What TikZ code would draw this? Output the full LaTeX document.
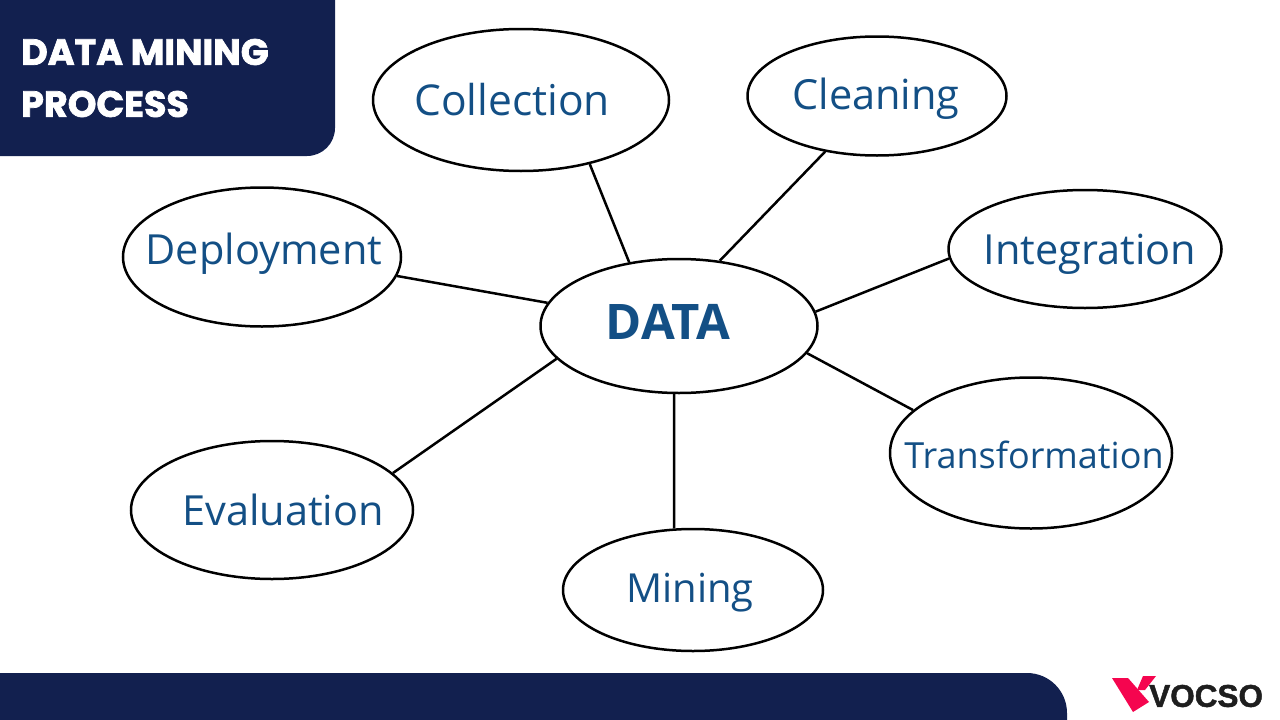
\documentclass[tikz,border=0pt]{standalone}
\usepackage{fontspec}
\setmainfont{Open Sans}
\newfontfamily\headfont[FakeBold=2]{Poppins}
\newfontfamily\logofont[FakeBold=1.5]{Liberation Sans}
\usepackage{tikz}
\usepackage{xcolor}
\usetikzlibrary{positioning,shapes.geometric}
\definecolor{navyband}{HTML}{12204F}
\definecolor{labelblue}{HTML}{134F85}
\definecolor{logored}{HTML}{F5054F}
\definecolor{logoblack}{HTML}{1E1E1E}
\tikzset{
    stage/.style={ellipse,draw=black,line width=2.5pt,inner sep=0pt},
    stagetext/.style={text=labelblue,font=\fontsize{41.5}{42}\selectfont,inner sep=0pt},
    spoke/.style={draw=black,line width=2.5pt},
    headtext/.style={anchor=west,text=white,inner sep=0pt,font=\headfont\bfseries\fontsize{36.5}{36.5}\selectfont},
}
\begin{document}
\begin{tikzpicture}[x=1pt,y=-1pt]
    \useasboundingbox (0,0) rectangle (1280,720);

    % Title block and footer band
    \fill[navyband,rounded corners=28pt] (-40,-40) rectangle (335,156);
    \fill[navyband,rounded corners=40pt] (-60,673) rectangle (1067,780);
    \node[headtext] (titleone) at (21,52) {DATA MINING};
    \node[headtext] (titletwo) at (21,104) {PROCESS};

    % Centre
    \node[stage,minimum width=277pt,minimum height=134pt] (data) at (679,326) {};
    \node[stagetext,font=\bfseries\fontsize{49}{49}\selectfont] (datatext) at (668,322) {DATA};

    % Stages
    \node[stage,minimum width=296pt,minimum height=142pt] (collection) at (521,100) {};
    \node[stagetext,font=\fontsize{42.5}{43}\selectfont] (collectiontext) at (512,100) {Collection};
    \node[stage,minimum width=259pt,minimum height=119pt] (cleaning) at (877,96) {};
    \node[stagetext] (cleaningtext) at (876,99) {Cleaning};
    \node[stage,minimum width=273pt,minimum height=118pt] (integration) at (1085,249) {};
    \node[stagetext] (integrationtext) at (1090,254) {Integration};
    \node[stage,minimum width=282pt,minimum height=151pt] (transformation) at (1031,453) {};
    \node[stagetext,font=\fontsize{36}{36}\selectfont] (transformationtext) at (1034,455) {Transformation};
    \node[stage,minimum width=260pt,minimum height=122pt] (mining) at (693,590) {};
    \node[stagetext,font=\fontsize{40}{40}\selectfont] (miningtext) at (690,593) {Mining};
    \node[stage,minimum width=282pt,minimum height=138pt] (evaluation) at (272,510) {};
    \node[stagetext] (evaluationtext) at (283,510) {Evaluation};
    \node[stage,minimum width=278pt,minimum height=139pt] (deployment) at (262,257) {};
    \node[stagetext] (deploymenttext) at (264,254) {Deployment};

    % Spokes
    \draw[spoke] (data.128) -- (collection.-43);
    \draw[spoke] (data.58) -- (cleaning.-133);
    \draw[spoke] (data.6) -- (integration.184);
    \draw[spoke] (data.-12) -- (transformation.160);
    \draw[spoke] (data.-94) -- (mining.107);
    \draw[spoke] (data.195) -- (evaluation.17);
    \draw[spoke] (data.170) -- (deployment.-8);

    % Logo
    \fill[logored] (1112,678) -- (1128,678) -- (1149,702) -- (1133,712) -- cycle;
    \fill[logored] (1143,676) -- (1156,676) -- (1145,690) -- (1137,690) -- cycle;
    \node[anchor=west,inner sep=0pt,text=logoblack,font=\logofont\bfseries\fontsize{31.5}{32}\selectfont] (logotext) at (1149,696) {VOCSO};
\end{tikzpicture}
\end{document}
